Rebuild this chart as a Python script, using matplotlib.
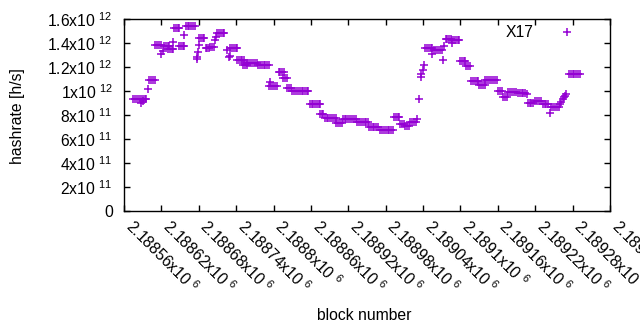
import matplotlib
matplotlib.use('Agg')
import matplotlib.pyplot as plt

plt.rcParams['font.family'] = ['Liberation Sans', 'DejaVu Sans']
plt.rcParams['mathtext.default'] = 'regular'
plt.rcParams['font.size'] = 11.3

# block number / hashrate (x10^12 h/s)
blocks = [
    2188575, 2188578, 2188581, 2188584, 2188587, 2188590, 2188593, 2188596, 2188588, 2188591,
    2188599, 2188600, 2188603, 2188606, 2188609,
    2188610, 2188613, 2188616, 2188619, 2188620, 2188623,
    2188624, 2188627, 2188630, 2188632,
    2188631, 2188634, 2188637, 2188639, 2188639,
    2188640, 2188643, 2188646, 2188649,
    2188648, 2188651, 2188654, 2188656, 2188657,
    2188659, 2188662, 2188665, 2188668, 2188671, 2188674,
    2188677, 2188677, 2188678, 2188680,
    2188681, 2188684, 2188687, 2188688,
    2188691, 2188694, 2188697, 2188698, 2188701, 2188704,
    2188706, 2188707,
    2188710, 2188713, 2188716, 2188719, 2188721,
    2188725, 2188729,
    2188730, 2188733, 2188736, 2188739, 2188741, 2188730,
    2188742, 2188745, 2188748, 2188750, 2188752,
    2188751, 2188754, 2188757,
    2188758, 2188761, 2188764, 2188767, 2188770, 2188773,
    2188775, 2188778, 2188781, 2188784, 2188787, 2188790, 2188792,
    2188793, 2188796, 2188799, 2188802, 2188805, 2188795,
    2188808, 2188811, 2188814, 2188816,
    2188815, 2188818, 2188821,
    2188822, 2188825, 2188828,
    2188830, 2188833, 2188836, 2188839, 2188842, 2188845, 2188848, 2188851, 2188854, 2188856,
    2188858, 2188861, 2188864, 2188867, 2188870, 2188873, 2188875,
    2188874, 2188877, 2188880,
    2188882, 2188885, 2188888, 2188891, 2188894, 2188897, 2188900,
    2188901, 2188904, 2188907, 2188910,
    2188911, 2188914, 2188917, 2188920, 2188923, 2188926, 2188929, 2188932,
    2188934, 2188937, 2188940, 2188943, 2188946, 2188949, 2188951,
    2188953, 2188956, 2188959, 2188962, 2188965, 2188968,
    2188971, 2188974, 2188977, 2188980, 2188983, 2188986, 2188989, 2188992,
    2188993, 2188996, 2188999, 2189001,
    2189003, 2189006, 2189009,
    2189011, 2189014, 2189017,
    2189019, 2189022, 2189025, 2189028, 2189030,
    2189033, 2189036, 2189037, 2189040, 2189042,
    2189043, 2189046, 2189049, 2189052, 2189054, 2189055,
    2189058, 2189061, 2189064, 2189067, 2189070, 2189072, 2189074,
    2189076, 2189079, 2189082, 2189085, 2189086,
    2189087, 2189090, 2189093, 2189096, 2189098,
    2189099, 2189102, 2189105, 2189108,
    2189109, 2189112, 2189115,
    2189117, 2189120, 2189123, 2189126, 2189128,
    2189130, 2189133, 2189136, 2189139,
    2189140, 2189143, 2189146, 2189149, 2189152, 2189155, 2189158,
    2189160, 2189163, 2189166,
    2189169, 2189172, 2189175,
    2189177, 2189180, 2189183, 2189186, 2189189,
    2189192, 2189195, 2189198, 2189201, 2189204, 2189206,
    2189208, 2189211, 2189214, 2189217,
    2189220, 2189223, 2189226, 2189229,
    2189232, 2189235, 2189238, 2189241,
    2189244, 2189246, 2189249, 2189252, 2189255, 2189258,
    2189260, 2189262, 2189264, 2189266, 2189268, 2189270,
    2189274, 2189277, 2189280, 2189283, 2189286, 2189289, 2189292,
]

hashrate_t = [
    0.93, 0.93, 0.93, 0.93, 0.93, 0.93, 0.93, 0.93, 0.90, 0.92,
    1.015, 1.089, 1.089, 1.089, 1.089,
    1.381, 1.381, 1.381, 1.381, 1.306, 1.333,
    1.375, 1.375, 1.375, 1.375,
    1.35, 1.35, 1.35, 1.35, 1.411,
    1.522, 1.522, 1.522, 1.522,
    1.378, 1.378, 1.378, 1.378, 1.467,
    1.539, 1.539, 1.539, 1.539, 1.539, 1.539,
    1.264, 1.28, 1.322, 1.383,
    1.439, 1.439, 1.439, 1.439,
    1.356, 1.356, 1.356, 1.369, 1.369, 1.369,
    1.425, 1.45,
    1.481, 1.481, 1.481, 1.481, 1.481,
    1.342, 1.286,
    1.356, 1.356, 1.356, 1.356, 1.356, 1.294,
    1.258, 1.258, 1.258, 1.258, 1.258,
    1.22, 1.22, 1.22,
    1.236, 1.236, 1.236, 1.236, 1.236, 1.236,
    1.214, 1.214, 1.214, 1.214, 1.214, 1.214, 1.214,
    1.044, 1.044, 1.044, 1.044, 1.044, 1.078,
    1.158, 1.158, 1.158, 1.158,
    1.106, 1.106, 1.106,
    1.022, 1.022, 1.022,
    0.997, 0.997, 0.997, 0.997, 0.997, 0.997, 0.997, 0.997, 0.997, 0.997,
    0.889, 0.889, 0.889, 0.889, 0.889, 0.889, 0.889,
    0.808, 0.808, 0.808,
    0.772, 0.772, 0.772, 0.772, 0.772, 0.772, 0.772,
    0.736, 0.736, 0.736, 0.736,
    0.764, 0.764, 0.764, 0.764, 0.764, 0.764, 0.764, 0.764,
    0.744, 0.744, 0.744, 0.744, 0.744, 0.744, 0.744,
    0.703, 0.703, 0.703, 0.703, 0.703, 0.703,
    0.675, 0.675, 0.675, 0.675, 0.675, 0.675, 0.675, 0.675,
    0.781, 0.781, 0.781, 0.781,
    0.725, 0.725, 0.725,
    0.711, 0.711, 0.711,
    0.739, 0.739, 0.739, 0.739, 0.77,
    0.931, 1.114, 1.14, 1.175, 1.217,
    1.356, 1.356, 1.356, 1.356, 1.356, 1.306,
    1.339, 1.339, 1.339, 1.339, 1.339, 1.258, 1.378,
    1.431, 1.431, 1.431, 1.431, 1.397,
    1.422, 1.422, 1.422, 1.422, 1.422,
    1.25, 1.25, 1.25, 1.25,
    1.208, 1.208, 1.208,
    1.081, 1.081, 1.081, 1.081, 1.081,
    1.047, 1.047, 1.047, 1.047,
    1.089, 1.089, 1.089, 1.089, 1.089, 1.089, 1.089,
    0.997, 0.997, 0.997,
    0.953, 0.953, 0.953,
    0.994, 0.994, 0.994, 0.994, 0.994,
    0.986, 0.986, 0.986, 0.986, 0.986, 0.972,
    0.903, 0.903, 0.903, 0.903,
    0.917, 0.917, 0.917, 0.917,
    0.894, 0.894, 0.894, 0.894,
    0.814, 0.869, 0.869, 0.869, 0.869, 0.869,
    0.89, 0.91, 0.93, 0.95, 0.96, 0.975,
    1.139, 1.139, 1.139, 1.139, 1.139, 1.139, 1.139,
]

x_ticks = [2188560 + 60 * i for i in range(14)]
x_labels = ['2.18856', '2.18862', '2.18868', '2.18874', '2.1888', '2.18886', '2.18892',
            '2.18898', '2.18904', '2.1891', '2.18916', '2.18922', '2.18928', '2.18934']
y_ticks = [0, 2e11, 4e11, 6e11, 8e11, 1e12, 1.2e12, 1.4e12, 1.6e12]
y_labels = ['0', '2x10 $^{11}$', '4x10 $^{11}$', '6x10 $^{11}$', '8x10 $^{11}$',
            '1x10 $^{12}$', '1.2x10 $^{12}$', '1.4x10 $^{12}$', '1.6x10 $^{12}$']

fig = plt.figure(figsize=(6.4, 3.3), dpi=100)
ax = fig.add_axes([124 / 640, 1 - 211 / 330, (610 - 124) / 640, (211 - 19) / 330])

ax.plot(blocks, [v * 1e12 for v in hashrate_t], linestyle='none', marker='+',
        markersize=5.5, markeredgewidth=1.1, color='#9400d3', label='X17')

ax.set_xlim(2188560, 2189340)
ax.set_ylim(0, 1.6e12)
ax.set_xticks(x_ticks)
ax.set_xticklabels([s + 'x10 $^{6}$' for s in x_labels], rotation=-45,
                   ha='left', va='baseline', rotation_mode='anchor')
ax.set_yticks(y_ticks)
ax.set_yticklabels(y_labels)
ax.tick_params(direction='in', length=4, width=1, top=True, right=True)
ax.tick_params(axis='x', pad=12)
ax.tick_params(axis='y', pad=8)
for s in ax.spines.values():
    s.set_linewidth(1)

fig.text(364 / 640, 1 - 316 / 330, 'block number', ha='center', va='center')
fig.text(18 / 640, 1 - 116 / 330, 'hashrate [h/s]', ha='center', va='center', rotation=90)

ax.legend(loc='upper right', bbox_to_anchor=((589 - 124) / 486, 1.0), frameon=False,
          markerfirst=False, handlelength=2, handletextpad=1.15, borderaxespad=0)

fig.savefig('out.png', dpi=100)
